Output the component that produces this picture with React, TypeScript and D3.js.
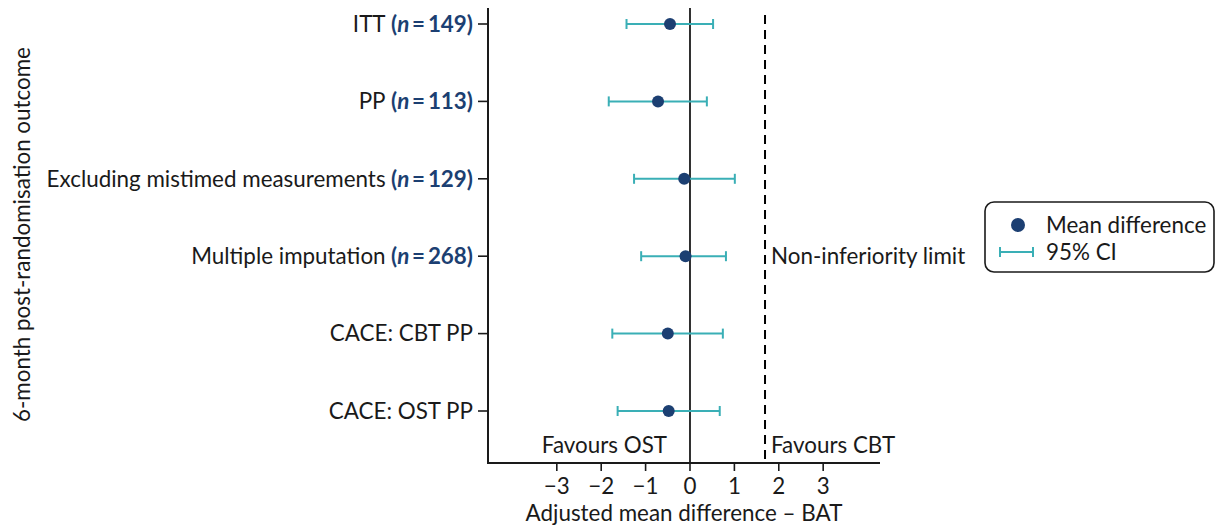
import * as d3 from 'd3';
import * as React from 'react';

const categories = [
  'ITT',
  'PP',
  'Excluding mistimed measurements',
  'Multiple imputation',
  'CACE: CBT PP',
  'CACE: OST PP',
];
const sampleSizes: (number | null)[] = [149, 113, 129, 268, null, null];
const meanDiff = [-0.45, -0.72, -0.13, -0.1, -0.5, -0.48];
const ciLow = [-1.43, -1.83, -1.26, -1.1, -1.75, -1.63];
const ciHigh = [0.52, 0.38, 1.01, 0.81, 0.74, 0.67];
const xTicks = [-3, -2, -1, 0, 1, 2, 3];
const nonInferiorityLimit = 1.69;

const width = 1217;
const height = 526;
const font = 'Lato, "Open Sans", sans-serif';
const fs = 22.4;
const navy = '#1c3f72';
const teal = '#3aafb6';
const ink = '#1a1a1a';

export default function App() {
  const x = d3.scaleLinear().domain([-4.55, 4.28]).range([488, 880]);
  const y = d3.scalePoint<string>().domain(categories).range([24, 411]);
  const axisY = 463;
  const capH = 5;
  const fmt = (v: number) => (v < 0 ? '\u2212' + Math.abs(v) : String(v));

  return (
    <svg
      width={width}
      height={height}
      style={{ position: 'absolute', left: 0, top: 0, background: '#fff' }}
      fontFamily={font}
    >
      {/* reference lines */}
      <line x1={x(0)} x2={x(0)} y1={8} y2={axisY} stroke={ink} strokeWidth={1.8} />
      <line
        x1={x(nonInferiorityLimit)}
        x2={x(nonInferiorityLimit)}
        y1={15}
        y2={axisY}
        stroke="#000"
        strokeWidth={2}
        strokeDasharray="9,6"
      />

      {/* axes */}
      <line x1={x.range()[0]} x2={x.range()[0]} y1={8} y2={axisY + 1} stroke={ink} strokeWidth={2} />
      <line x1={x.range()[0]} x2={x.range()[1]} y1={axisY} y2={axisY} stroke={ink} strokeWidth={2} />
      {xTicks.map((t) => (
        <g key={t}>
          <line x1={x(t)} x2={x(t)} y1={axisY} y2={axisY + 8} stroke={ink} strokeWidth={1.6} />
          <text x={x(t)} y={494} textAnchor="middle" fontSize={fs} fill={ink}>
            {fmt(t)}
          </text>
        </g>
      ))}
      <text x={(x.range()[0] + x.range()[1]) / 2} y={521} textAnchor="middle" fontSize={fs} fill={ink}>
        Adjusted mean difference – BAT
      </text>

      {categories.map((c, i) => (
        <g key={c}>
          <line x1={478} x2={488} y1={y(c)} y2={y(c)} stroke={ink} strokeWidth={1.6} />
          <text x={473} y={y(c)!} dy="0.35em" textAnchor="end" fontSize={fs} fill={ink}>
            {c}
            {sampleSizes[i] != null && (
              <tspan fill={navy} fontWeight="bold">
                {' ('}
                <tspan fontStyle="italic">n</tspan>
                {'\u2009=\u2009' + sampleSizes[i] + ')'}
              </tspan>
            )}
          </text>
        </g>
      ))}

      <text
        transform={`translate(30,234.5) rotate(-90)`}
        textAnchor="middle"
        fontSize={fs}
        fill={ink}
      >
        6-month post-randomisation outcome
      </text>

      {/* confidence intervals and points */}
      {categories.map((c, i) => {
        const cy = y(c)!;
        return (
          <g key={c}>
            <line x1={x(ciLow[i])} x2={x(ciHigh[i])} y1={cy} y2={cy} stroke={teal} strokeWidth={2} />
            <line x1={x(ciLow[i])} x2={x(ciLow[i])} y1={cy - capH} y2={cy + capH} stroke={teal} strokeWidth={2} />
            <line x1={x(ciHigh[i])} x2={x(ciHigh[i])} y1={cy - capH} y2={cy + capH} stroke={teal} strokeWidth={2} />
            <circle cx={x(meanDiff[i])} cy={cy} r={6} fill={navy} />
          </g>
        );
      })}

      <text x={x(nonInferiorityLimit) + 6} y={y('Multiple imputation')!} dy="0.35em" fontSize={fs} fill={ink}>
        Non-inferiority limit
      </text>
      <text x={667} y={453} textAnchor="end" fontSize={fs} fill={ink}>
        Favours OST
      </text>
      <text x={x(nonInferiorityLimit) + 6} y={453} fontSize={fs} fill={ink}>
        Favours CBT
      </text>

      {/* legend */}
      <g>
        <rect x={985} y={202} width={229} height={70} rx={9} fill="#fff" stroke={ink} strokeWidth={1.6} />
        <circle cx={1018} cy={225} r={7} fill={navy} />
        <text x={1046} y={225} dy="0.35em" fontSize={fs} fill={ink}>
          Mean difference
        </text>
        <line x1={1000} x2={1033} y1={252} y2={252} stroke={teal} strokeWidth={2} />
        <line x1={1000} x2={1000} y1={247} y2={257} stroke={teal} strokeWidth={2} />
        <line x1={1033} x2={1033} y1={247} y2={257} stroke={teal} strokeWidth={2} />
        <text x={1046} y={252} dy="0.35em" fontSize={fs} fill={ink}>
          95% CI
        </text>
      </g>
    </svg>
  );
}
